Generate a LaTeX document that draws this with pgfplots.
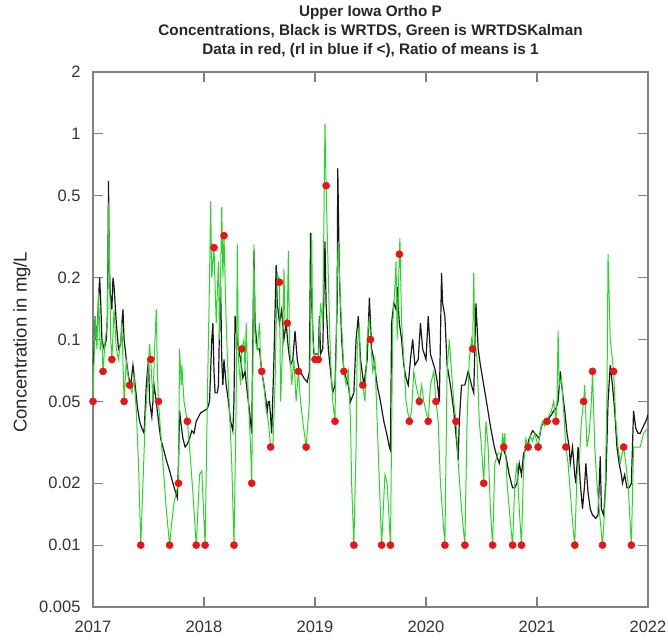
\documentclass[border=0pt]{standalone}
\usepackage{fontspec}
\setmainfont{Liberation Sans}
\usepackage{pgfplots}
\pgfplotsset{compat=1.18}
\definecolor{kgreen}{RGB}{40,215,40}
\definecolor{frame}{RGB}{128,128,128}
\definecolor{dred}{RGB}{235,20,20}
\begin{document}
\begin{tikzpicture}
\begin{axis}[
  name=ax,
  scale only axis,
  width=555pt, height=535pt,
  xmin=2017, xmax=2022,
  ymode=log, ymin=0.005, ymax=2,
  xtick={2017,2018,2019,2020,2021,2022},
  xticklabels={2017,2018,2019,2020,2021,2022},
  ytick={0.005,0.01,0.02,0.05,0.1,0.2,0.5,1,2},
  yticklabels={0.005,0.01,0.02,0.05,0.1,0.2,0.5,1,2},
  minor tick num=0,
  log basis y=10,
  yminorticks=false,
  tick align=inside,
  major tick length=10pt,
  axis line style={frame, line width=1.3pt},
  every tick/.style={frame, line width=1.1pt},
  tick label style={font=\fontsize{16.5}{18}\selectfont, color=black!80},
  yticklabel style={xshift=-9pt},
  xticklabel style={yshift=-10pt},
  ylabel={Concentration in mg/L},
  ylabel style={at={(axis description cs:-0.128,0.495)}, anchor=center, rotate=0, font=\fontsize{18.5}{20}\selectfont, color=black!85},
  title={Upper Iowa Ortho P\\Concentrations, Black is WRTDS, Green is WRTDSKalman\\Data in red, (rl in blue if <), Ratio of means is 1},
  title style={at={(0.5,1)}, anchor=south, yshift=5pt, align=center, font=\bfseries\fontsize{15.3}{19}\selectfont, color=black!85},
  clip=true,
]
% WRTDS (black)
\addplot[color=black!90, line width=1.2pt, mark=none] coordinates {
(2017.00,0.075) (2017.01,0.09) (2017.02,0.13) (2017.03,0.1) (2017.04,0.11) (2017.05,0.16) (2017.06,0.2) (2017.07,0.15) (2017.08,0.1) (2017.10,0.09) (2017.12,0.1) (2017.13,0.13) (2017.14,0.59) (2017.145,0.25) (2017.155,0.17) (2017.17,0.14) (2017.18,0.2) (2017.19,0.18) (2017.21,0.12) (2017.23,0.09) (2017.25,0.095) (2017.26,0.12) (2017.27,0.14) (2017.28,0.1) (2017.30,0.08) (2017.32,0.066) (2017.34,0.06) (2017.36,0.075) (2017.38,0.06) (2017.40,0.047) (2017.42,0.04) (2017.44,0.037) (2017.46,0.035) (2017.48,0.06) (2017.50,0.08) (2017.51,0.05) (2017.53,0.042) (2017.55,0.06) (2017.57,0.05) (2017.59,0.04) (2017.61,0.033) (2017.63,0.03) (2017.66,0.026) (2017.69,0.023) (2017.72,0.02) (2017.745,0.018) (2017.76,0.017) (2017.77,0.025) (2017.78,0.045) (2017.79,0.04) (2017.81,0.033) (2017.83,0.03) (2017.85,0.031) (2017.87,0.033) (2017.89,0.036) (2017.91,0.035) (2017.93,0.04) (2017.95,0.042) (2017.97,0.044) (2018.00,0.045) (2018.03,0.046) (2018.05,0.05) (2018.07,0.1) (2018.08,0.12) (2018.09,0.07) (2018.10,0.055) (2018.12,0.055) (2018.13,0.06) (2018.14,0.12) (2018.15,0.18) (2018.16,0.08) (2018.17,0.06) (2018.18,0.08) (2018.20,0.06) (2018.22,0.05) (2018.24,0.04) (2018.26,0.036) (2018.27,0.05) (2018.28,0.13) (2018.29,0.11) (2018.31,0.09) (2018.33,0.08) (2018.35,0.065) (2018.37,0.07) (2018.39,0.055) (2018.41,0.045) (2018.43,0.035) (2018.44,0.1) (2018.45,0.27) (2018.46,0.12) (2018.48,0.09) (2018.50,0.09) (2018.52,0.07) (2018.54,0.06) (2018.56,0.05) (2018.57,0.045) (2018.58,0.05) (2018.59,0.05) (2018.61,0.035) (2018.63,0.08) (2018.65,0.23) (2018.66,0.15) (2018.68,0.12) (2018.70,0.14) (2018.72,0.1) (2018.74,0.12) (2018.76,0.09) (2018.78,0.075) (2018.80,0.08) (2018.82,0.11) (2018.84,0.08) (2018.86,0.07) (2018.88,0.068) (2018.90,0.065) (2018.93,0.062) (2018.95,0.07) (2018.96,0.33) (2018.97,0.15) (2018.99,0.085) (2019.01,0.085) (2019.03,0.085) (2019.04,0.13) (2019.05,0.085) (2019.07,0.09) (2019.09,0.3) (2019.10,0.15) (2019.12,0.09) (2019.14,0.07) (2019.16,0.055) (2019.18,0.06) (2019.20,0.15) (2019.205,0.68) (2019.22,0.2) (2019.24,0.1) (2019.26,0.07) (2019.28,0.065) (2019.30,0.06) (2019.32,0.05) (2019.35,0.055) (2019.37,0.1) (2019.39,0.13) (2019.41,0.08) (2019.44,0.06) (2019.47,0.08) (2019.49,0.16) (2019.51,0.09) (2019.53,0.08) (2019.56,0.06) (2019.59,0.05) (2019.62,0.04) (2019.65,0.034) (2019.67,0.03) (2019.68,0.029) (2019.69,0.12) (2019.71,0.15) (2019.73,0.14) (2019.74,0.18) (2019.76,0.12) (2019.78,0.1) (2019.80,0.075) (2019.82,0.065) (2019.84,0.06) (2019.86,0.08) (2019.88,0.1) (2019.90,0.075) (2019.93,0.08) (2019.95,0.12) (2019.97,0.09) (2020.00,0.08) (2020.02,0.13) (2020.04,0.085) (2020.06,0.078) (2020.08,0.072) (2020.10,0.063) (2020.12,0.05) (2020.13,0.1) (2020.14,0.21) (2020.15,0.15) (2020.17,0.13) (2020.19,0.075) (2020.22,0.06) (2020.25,0.045) (2020.28,0.03) (2020.29,0.026) (2020.30,0.04) (2020.32,0.06) (2020.35,0.06) (2020.38,0.07) (2020.41,0.06) (2020.43,0.055) (2020.44,0.09) (2020.45,0.15) (2020.47,0.09) (2020.49,0.075) (2020.52,0.06) (2020.55,0.048) (2020.58,0.038) (2020.61,0.031) (2020.63,0.028) (2020.66,0.025) (2020.69,0.03) (2020.72,0.027) (2020.75,0.022) (2020.78,0.019) (2020.80,0.019) (2020.82,0.02) (2020.84,0.025) (2020.86,0.022) (2020.88,0.028) (2020.91,0.03) (2020.93,0.033) (2020.96,0.036) (2020.98,0.035) (2021.00,0.034) (2021.02,0.033) (2021.04,0.038) (2021.07,0.04) (2021.10,0.041) (2021.13,0.043) (2021.15,0.045) (2021.17,0.046) (2021.19,0.05) (2021.21,0.07) (2021.23,0.055) (2021.25,0.045) (2021.27,0.035) (2021.29,0.03) (2021.30,0.025) (2021.32,0.03) (2021.34,0.022) (2021.35,0.02) (2021.37,0.03) (2021.39,0.02) (2021.41,0.015) (2021.43,0.02) (2021.44,0.025) (2021.46,0.018) (2021.48,0.015) (2021.50,0.014) (2021.53,0.0135) (2021.55,0.014) (2021.57,0.027) (2021.58,0.015) (2021.60,0.014) (2021.62,0.02) (2021.64,0.05) (2021.66,0.075) (2021.68,0.06) (2021.70,0.045) (2021.72,0.03) (2021.74,0.025) (2021.76,0.022) (2021.77,0.02) (2021.79,0.022) (2021.81,0.019) (2021.83,0.019) (2021.85,0.02) (2021.86,0.03) (2021.87,0.045) (2021.89,0.037) (2021.91,0.035) (2021.93,0.035) (2021.96,0.038) (2021.98,0.04) (2022.00,0.043)
};
% WRTDSKalman (green)
\addplot[color=kgreen, line width=1pt, mark=none] coordinates {
(2017.00,0.05) (2017.01,0.08) (2017.02,0.13) (2017.035,0.09) (2017.05,0.17) (2017.065,0.09) (2017.08,0.1) (2017.09,0.07) (2017.11,0.1) (2017.13,0.12) (2017.14,0.46) (2017.15,0.2) (2017.16,0.1) (2017.17,0.08) (2017.19,0.14) (2017.21,0.09) (2017.23,0.08) (2017.25,0.1) (2017.26,0.12) (2017.28,0.05) (2017.30,0.08) (2017.31,0.07) (2017.33,0.06) (2017.35,0.055) (2017.37,0.065) (2017.39,0.045) (2017.41,0.025) (2017.43,0.01) (2017.45,0.02) (2017.47,0.04) (2017.49,0.06) (2017.51,0.095) (2017.52,0.08) (2017.54,0.05) (2017.555,0.09) (2017.57,0.14) (2017.58,0.07) (2017.59,0.05) (2017.61,0.035) (2017.63,0.025) (2017.66,0.015) (2017.69,0.01) (2017.71,0.013) (2017.73,0.016) (2017.75,0.018) (2017.77,0.02) (2017.78,0.09) (2017.795,0.06) (2017.80,0.075) (2017.82,0.05) (2017.85,0.04) (2017.87,0.03) (2017.90,0.018) (2017.93,0.01) (2017.96,0.022) (2017.98,0.023) (2018.01,0.01) (2018.03,0.05) (2018.05,0.2) (2018.06,0.47) (2018.07,0.2) (2018.09,0.28) (2018.11,0.12) (2018.13,0.24) (2018.14,0.1) (2018.16,0.44) (2018.17,0.2) (2018.18,0.32) (2018.20,0.12) (2018.22,0.06) (2018.25,0.025) (2018.27,0.01) (2018.29,0.05) (2018.30,0.29) (2018.31,0.08) (2018.33,0.06) (2018.34,0.09) (2018.36,0.1) (2018.37,0.07) (2018.38,0.12) (2018.40,0.05) (2018.42,0.03) (2018.43,0.02) (2018.45,0.29) (2018.46,0.1) (2018.48,0.09) (2018.50,0.12) (2018.51,0.08) (2018.52,0.07) (2018.54,0.06) (2018.56,0.045) (2018.58,0.04) (2018.60,0.03) (2018.62,0.03) (2018.64,0.06) (2018.66,0.21) (2018.68,0.19) (2018.69,0.05) (2018.71,0.1) (2018.72,0.22) (2018.73,0.12) (2018.75,0.12) (2018.76,0.27) (2018.77,0.1) (2018.79,0.06) (2018.81,0.08) (2018.83,0.05) (2018.85,0.07) (2018.87,0.05) (2018.89,0.04) (2018.92,0.03) (2018.95,0.05) (2018.97,0.33) (2018.98,0.1) (2019.00,0.08) (2019.02,0.08) (2019.03,0.08) (2019.05,0.15) (2019.07,0.12) (2019.09,1.12) (2019.10,0.56) (2019.12,0.2) (2019.14,0.08) (2019.16,0.05) (2019.18,0.04) (2019.20,0.2) (2019.21,0.3) (2019.23,0.15) (2019.26,0.07) (2019.28,0.06) (2019.30,0.07) (2019.32,0.04) (2019.33,0.02) (2019.35,0.01) (2019.37,0.03) (2019.38,0.09) (2019.40,0.12) (2019.41,0.06) (2019.43,0.06) (2019.45,0.05) (2019.47,0.1) (2019.49,0.13) (2019.50,0.1) (2019.52,0.07) (2019.54,0.08) (2019.56,0.04) (2019.58,0.02) (2019.60,0.01) (2019.63,0.022) (2019.65,0.02) (2019.68,0.01) (2019.70,0.12) (2019.72,0.18) (2019.73,0.24) (2019.74,0.1) (2019.76,0.26) (2019.765,0.31) (2019.78,0.12) (2019.80,0.08) (2019.82,0.05) (2019.85,0.04) (2019.87,0.045) (2019.89,0.07) (2019.91,0.06) (2019.94,0.05) (2019.96,0.06) (2019.98,0.05) (2020.02,0.04) (2020.04,0.06) (2020.07,0.07) (2020.09,0.05) (2020.11,0.04) (2020.13,0.02) (2020.17,0.01) (2020.19,0.07) (2020.21,0.1) (2020.23,0.07) (2020.25,0.05) (2020.27,0.04) (2020.29,0.025) (2020.32,0.015) (2020.35,0.01) (2020.37,0.04) (2020.39,0.08) (2020.41,0.1) (2020.42,0.09) (2020.43,0.21) (2020.44,0.1) (2020.46,0.08) (2020.48,0.04) (2020.50,0.03) (2020.52,0.02) (2020.54,0.04) (2020.56,0.03) (2020.58,0.015) (2020.60,0.01) (2020.62,0.025) (2020.65,0.028) (2020.68,0.028) (2020.69,0.035) (2020.70,0.03) (2020.71,0.035) (2020.73,0.02) (2020.76,0.013) (2020.78,0.01) (2020.80,0.02) (2020.82,0.025) (2020.84,0.015) (2020.86,0.01) (2020.88,0.025) (2020.90,0.033) (2020.92,0.03) (2020.94,0.034) (2020.96,0.032) (2020.98,0.035) (2021.01,0.03) (2021.03,0.036) (2021.05,0.04) (2021.07,0.038) (2021.09,0.04) (2021.11,0.043) (2021.13,0.045) (2021.15,0.05) (2021.17,0.04) (2021.18,0.05) (2021.19,0.11) (2021.20,0.06) (2021.22,0.065) (2021.24,0.045) (2021.26,0.03) (2021.28,0.025) (2021.30,0.018) (2021.32,0.013) (2021.34,0.01) (2021.36,0.022) (2021.38,0.025) (2021.40,0.04) (2021.42,0.05) (2021.43,0.06) (2021.45,0.03) (2021.47,0.035) (2021.49,0.05) (2021.50,0.07) (2021.52,0.03) (2021.54,0.02) (2021.56,0.015) (2021.59,0.01) (2021.61,0.015) (2021.63,0.05) (2021.64,0.26) (2021.66,0.1) (2021.69,0.07) (2021.71,0.04) (2021.73,0.03) (2021.75,0.025) (2021.78,0.03) (2021.80,0.025) (2021.82,0.02) (2021.85,0.01) (2021.87,0.03) (2021.90,0.03) (2021.93,0.03) (2021.96,0.035) (2022.00,0.037)
};
% Observations (red)
\addplot[only marks, mark=*, mark size=3.6pt, color=dred] coordinates {
(2017.00,0.05) (2017.09,0.07) (2017.17,0.08) (2017.28,0.05) (2017.33,0.06) (2017.43,0.01) (2017.52,0.08) (2017.59,0.05) (2017.69,0.01) (2017.77,0.02) (2017.85,0.04) (2017.93,0.01) (2018.01,0.01)
(2018.09,0.28) (2018.18,0.32) (2018.27,0.01) (2018.34,0.09) (2018.43,0.02) (2018.52,0.07) (2018.60,0.03) (2018.68,0.19) (2018.75,0.12) (2018.85,0.07) (2018.92,0.03) (2019.00,0.08) (2019.03,0.08)
(2019.10,0.56) (2019.18,0.04) (2019.26,0.07) (2019.35,0.01) (2019.43,0.06) (2019.50,0.1) (2019.60,0.01) (2019.68,0.01) (2019.76,0.26) (2019.85,0.04) (2019.94,0.05) (2020.02,0.04)
(2020.09,0.05) (2020.17,0.01) (2020.27,0.04) (2020.35,0.01) (2020.42,0.09) (2020.52,0.02) (2020.60,0.01) (2020.70,0.03) (2020.78,0.01) (2020.86,0.01) (2020.92,0.03) (2021.01,0.03)
(2021.09,0.04) (2021.17,0.04) (2021.26,0.03) (2021.34,0.01) (2021.42,0.05) (2021.50,0.07) (2021.59,0.01) (2021.69,0.07) (2021.78,0.03) (2021.85,0.01)
};
\end{axis}
\pgfresetboundingbox
\path ([xshift=-93pt,yshift=-33pt]ax.south west) rectangle ([xshift=20pt,yshift=72pt]ax.north east);
\end{tikzpicture}
\end{document}
